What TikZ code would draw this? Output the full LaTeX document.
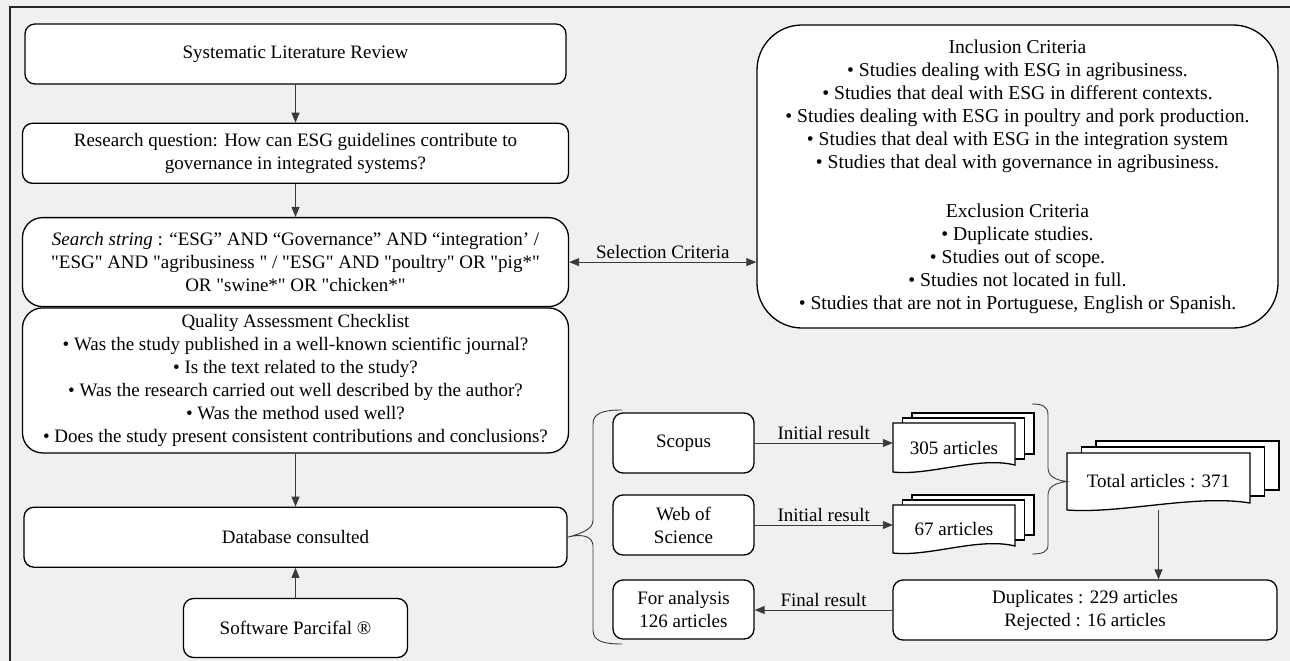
\documentclass[tikz,border=0pt]{standalone}
\usepackage{fontspec}
\setmainfont{Liberation Serif}[Ligatures=TeXOff]
\usepackage{tikz}
\usetikzlibrary{positioning,shapes,arrows.meta,calc}
\definecolor{pagegray}{HTML}{F0F0F0}
\definecolor{wiregray}{HTML}{3A3A3A}
\tikzstyle{flowbox}=[%
      rectangle, rounded corners=10pt, draw=black, line width=1.3pt, fill=white,
      align=center, inner sep=4pt, minimum height=60pt
]
\tikzstyle{longbox}=[%
      flowbox, minimum width=546pt
]
\tikzstyle{critbox}=[%
      flowbox, rounded corners=45pt, minimum width=521pt, minimum height=303pt,
      font=\fontsize{19.6}{23}\selectfont
]
\tikzstyle{basebox}=[%
      flowbox, minimum width=141pt
]
\tikzstyle{docsheet}=[draw=black, line width=1.3pt, fill=white]
\tikzstyle{wire}=[draw=wiregray, line width=0.9pt]
\tikzstyle{flowarrow}=[wire, -{Triangle[length=10pt,width=8pt]}]
\tikzstyle{bracewire}=[draw=wiregray, line width=0.9pt]
% name, x, y, width, height, dx, dy, text
\newcommand{\docstack}[8]{%
  \foreach \k in {2,1}{
    \draw[docsheet] ({#2-#4/2+\k*#6},{#3-#5/2-\k*#7}) rectangle ({#2+#4/2+\k*#6},{#3+#5/2-8-\k*#7});
  }
  \draw[docsheet] ({#2-#4/2},{#3-#5/2}) -- ({#2+#4/2},{#3-#5/2}) -- ({#2+#4/2},{#3+#5/2-7})
     .. controls ({#2+0.2*#4},{#3+#5/2-16}) and ({#2-0.2*#4},{#3+#5/2+4}) .. ({#2-#4/2},{#3+#5/2}) -- cycle;
  \node[inner sep=0pt, minimum width=#4, minimum height=#5] (#1) at (#2,#3) {#8};
}

\begin{document}
\begin{tikzpicture}[x=1pt, y=-1pt, font=\fontsize{19}{23}\selectfont]
    \fill[pagegray] (0,0) rectangle (1290,661);
    \useasboundingbox (0,0) rectangle (1290,661);
    \draw[line width=1.5pt, black!85] (10,661) -- (10,7) -- (1290,7);

    % left column
    \node[longbox, minimum width=541pt] (slr) at (295.5,54) {Systematic Literature Review};
    \node[longbox] (rq) [below = 38pt of slr] {Research question: How can ESG guidelines contribute to\\governance in integrated systems?};
    \node[longbox, rounded corners=20pt, minimum height=89pt] (srch) [below = 33pt of rq]
        {\textit{Search string} : “ESG” AND “Governance” AND “integration’ /\\"ESG" AND "agribusiness " / "ESG" AND "poultry" OR "pig*"\\OR "swine*" OR "chicken*"};
    \node[longbox, rounded corners=20pt, minimum height=145pt] (qual) [below = 0pt of srch]
        {Quality Assessment Checklist\\• Was the study published in a well-known scientific journal?\\• Is the text related to the study?\\• Was the research carried out well described by the author?\\• Was the method used well?\\• Does the study present consistent contributions and conclusions?};
    \node[longbox, minimum width=543pt] (db) [below = 53pt of qual] {Database consulted};
    \node[flowbox, minimum width=224pt, minimum height=59pt] (soft) [below = 30pt of db] {Software Parcifal ®};

    % criteria
    \node[critbox] (crit) at (1017.5,176.5)
        {Inclusion Criteria\\• Studies dealing with ESG in agribusiness.\\• Studies that deal with ESG in different contexts.\\• Studies dealing with ESG in poultry and pork production.\\• Studies that deal with ESG in the integration system\\• Studies that deal with governance in agribusiness.\\[26pt]Exclusion Criteria\\• Duplicate studies.\\• Studies out of scope.\\• Studies not located in full.\\• Studies that are not in Portuguese, English or Spanish.};

    % databases and results
    \node[basebox] (scopus) at (683.5,443) {Scopus};
    \node[basebox] (wos) at (683.5,525) {Web of\\Science};
    \node[basebox, minimum height=59pt] (anal) at (683.5,609.5) {For analysis\\126 articles};
    \node[flowbox, minimum width=384pt] (dup) at (1085,610) {Duplicates : 229 articles\\Rejected : 16 articles};

    \docstack{d305}{954}{447.5}{122}{49}{9.5}{5}{305 articles}
    \docstack{d67}{954}{529}{122}{48}{9.5}{5}{67 articles}
    \docstack{tot}{1158.5}{481.5}{183}{57}{14.5}{6}{Total articles : 371}

    \draw[flowarrow] (slr.south) -- (slr.south |- rq.north);
    \draw[flowarrow] (rq.south) -- (rq.south |- srch.north);
    \draw[flowarrow] (qual.south) -- (qual.south |- db.north);
    \draw[flowarrow] (soft.north) -- (soft.north |- db.south);
    \draw[wire, {Triangle[length=10pt,width=8pt]}-{Triangle[length=10pt,width=8pt]}]
        (srch.east) -- node[above] {Selection Criteria} (srch.east -| crit.west);
    \draw[flowarrow] (scopus.east) -- node[above] {Initial result} (scopus.east -| d305.west);
    \draw[flowarrow] (wos.east) -- node[above] {Initial result} (wos.east -| d67.west);
    \draw[flowarrow] (dup.west) -- node[above] {Final result} (dup.west -| anal.east);
    \draw[flowarrow] (tot.south) -- (tot.south |- dup.north);

    % braces
    \draw[bracewire] (622,410) .. controls (603,410) and (593,413) .. (593,424) -- (593,520)
        .. controls (593,529) and (583,533) .. (db.east)
        .. controls (583,533) and (593,537) .. (593,546) -- (593,630)
        .. controls (593,641) and (603,644) .. (622,644);
    \draw[bracewire] (1032,404) .. controls (1042,404) and (1048,406) .. (1048,415) -- (1048,468)
        .. controls (1048,476) and (1055,480) .. (tot.west)
        .. controls (1055,483) and (1048,487) .. (1048,495) -- (1048,545)
        .. controls (1048,552) and (1042,554) .. (1032,554);
\end{tikzpicture}
\end{document}
